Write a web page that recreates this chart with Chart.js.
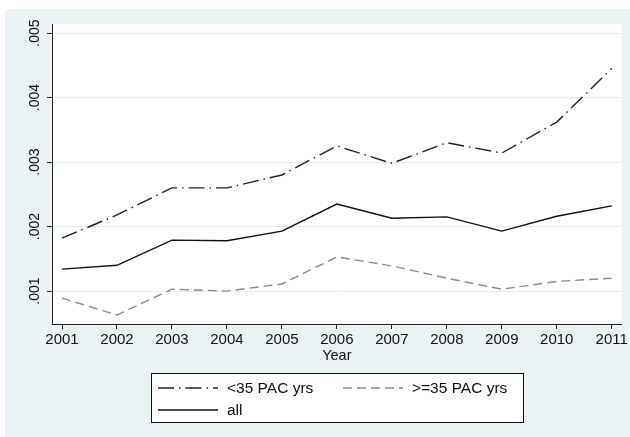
<!DOCTYPE html>
<html>
<head>
<meta charset="utf-8">
<script src="https://cdn.jsdelivr.net/npm/chart.js@4.4.1/dist/chart.umd.min.js"></script>
<style>
  html, body { margin: 0; padding: 0; background: #fff; }
  #wrap { width: 630px; height: 437px; position: relative; }
</style>
</head>
<body>
<div id="wrap"><canvas id="myChart"></canvas></div>
<script>
const years = [2001, 2002, 2003, 2004, 2005, 2006, 2007, 2008, 2009, 2010, 2011];
const under35 = [0.00182, 0.00218, 0.00260, 0.00260, 0.00280, 0.00325, 0.00298, 0.00330, 0.00314, 0.00362, 0.00445];
const over35 = [0.00089, 0.00063, 0.00103, 0.00100, 0.00111, 0.00153, 0.00139, 0.00120, 0.00103, 0.00115, 0.00120];
const allPac = [0.00134, 0.00140, 0.00179, 0.00178, 0.00193, 0.00235, 0.00213, 0.00215, 0.00193, 0.00216, 0.00232];
const yTicks = [0.001, 0.002, 0.003, 0.004, 0.005];
const yTickLabels = ['.001', '.002', '.003', '.004', '.005'];
const legendLabels = ['<35 PAC yrs', '>=35 PAC yrs', 'all'];

const FONT = '"Liberation Sans", Arial, Helvetica, sans-serif';
const dashUnder = [16, 5, 1.5, 5];
const dashOver = [9, 5];

const stataDecor = {
    id: 'stataDecor',
    beforeDraw(chart) {
        const { ctx, chartArea } = chart;
        ctx.save();
        ctx.fillStyle = '#EAF2F3';
        ctx.fillRect(5, 9, 625, 428);
        ctx.fillStyle = '#ffffff';
        ctx.fillRect(chartArea.left, chartArea.top, chartArea.right - chartArea.left, chartArea.bottom - chartArea.top);
        ctx.restore();
    },
    afterDraw(chart) {
        const ctx = chart.ctx;
        const yScale = chart.scales.y;
        ctx.save();
        // rotated y tick labels
        ctx.fillStyle = '#111';
        ctx.font = '14px ' + FONT;
        ctx.textAlign = 'center';
        ctx.textBaseline = 'middle';
        yTicks.forEach((v, i) => {
            const py = yScale.getPixelForValue(v);
            ctx.save();
            ctx.translate(35, py);
            ctx.rotate(-Math.PI / 2);
            ctx.fillText(yTickLabels[i], 0, 0);
            ctx.restore();
        });

        // legend box
        ctx.fillStyle = '#ffffff';
        ctx.fillRect(151, 373, 372, 49);
        ctx.strokeStyle = '#111';
        ctx.lineWidth = 1;
        ctx.strokeRect(151.5, 373.5, 372, 49);

        const sample = (x1, x2, y, color, dash) => {
            ctx.beginPath();
            ctx.strokeStyle = color;
            ctx.lineWidth = 1.4;
            ctx.setLineDash(dash);
            ctx.moveTo(x1, y);
            ctx.lineTo(x2, y);
            ctx.stroke();
            ctx.setLineDash([]);
        };
        sample(158, 218, 388, '#222', dashUnder);
        sample(343, 403, 388, '#8c8c8c', dashOver);
        sample(158, 218, 410, '#111', []);

        ctx.fillStyle = '#111';
        ctx.font = '15.5px ' + FONT;
        ctx.textAlign = 'left';
        ctx.fillText(legendLabels[0], 227, 389);
        ctx.fillText(legendLabels[1], 412, 389);
        ctx.fillText(legendLabels[2], 227, 411);
        ctx.restore();
    }
};

const ctx = document.getElementById('myChart').getContext('2d');
new Chart(ctx, {
    type: 'line',
    data: {
        datasets: [
            {
                label: legendLabels[0],
                data: years.map((y, i) => ({ x: y, y: under35[i] })),
                borderColor: '#222',
                borderWidth: 1.4,
                borderDash: dashUnder,
                pointRadius: 0,
                tension: 0,
                fill: false
            },
            {
                label: legendLabels[1],
                data: years.map((y, i) => ({ x: y, y: over35[i] })),
                borderColor: '#8c8c8c',
                borderWidth: 1.4,
                borderDash: dashOver,
                pointRadius: 0,
                tension: 0,
                fill: false
            },
            {
                label: legendLabels[2],
                data: years.map((y, i) => ({ x: y, y: allPac[i] })),
                borderColor: '#111',
                borderWidth: 1.4,
                pointRadius: 0,
                tension: 0,
                fill: false
            }
        ]
    },
    options: {
        responsive: true,
        maintainAspectRatio: false,
        animation: false,
        layout: { padding: { left: 0, top: 24, right: 8, bottom: 68 } },
        plugins: {
            legend: { display: false },
            tooltip: { enabled: false }
        },
        scales: {
            x: {
                type: 'linear',
                min: 2000.818,
                max: 2011.182,
                afterBuildTicks: axis => { axis.ticks = years.map(v => ({ value: v })); },
                afterFit: axis => { axis.height = 45; },
                grid: { drawOnChartArea: false, drawTicks: true, tickLength: 5, tickColor: '#222' },
                border: { color: '#222', width: 1 },
                ticks: {
                    color: '#111',
                    font: { family: FONT, size: 15 },
                    padding: 2,
                    maxRotation: 0,
                    minRotation: 0,
                    callback: v => String(v)
                },
                title: {
                    display: true,
                    text: 'Year',
                    color: '#111',
                    font: { family: FONT, size: 14.5 },
                    padding: { top: 0, bottom: 4 }
                }
            },
            y: {
                min: 0.00049,
                max: 0.00514,
                afterBuildTicks: axis => { axis.ticks = yTicks.map(v => ({ value: v })); },
                afterFit: axis => { axis.width = 52; },
                grid: { color: '#E4EEF0', lineWidth: 1, drawTicks: true, tickLength: 5, tickColor: '#222' },
                border: { color: '#222', width: 1 },
                ticks: { color: 'rgba(0,0,0,0)', font: { family: FONT, size: 14 } }
            }
        }
    },
    plugins: [stataDecor]
});
</script>
</body>
</html>
